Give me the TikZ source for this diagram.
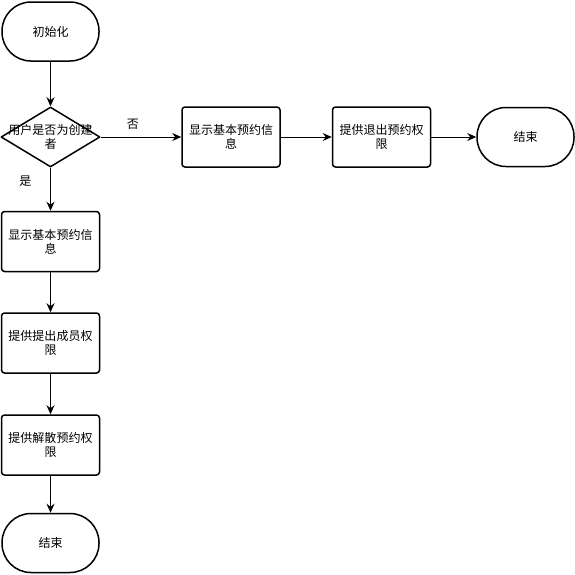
\documentclass[tikz,border=0pt]{standalone}
\usepackage{fontspec}
\setmainfont{Noto Sans CJK SC}
\usetikzlibrary{arrows.meta, positioning, shapes.geometric}
\tikzset{
  terminal/.style={draw, line width=1.5pt, rounded corners=29pt, minimum width=97pt, minimum height=59pt, inner sep=0pt},
  process/.style={draw, line width=1.5pt, rounded corners=3pt, minimum width=98pt, minimum height=60pt, align=center, inner sep=0pt},
  decision/.style={draw, line width=1.5pt, diamond, minimum width=99pt, minimum height=60pt, inner sep=0pt},
  flow/.style={-{Stealth[length=9pt,width=8pt]}, line width=1pt}
}

\begin{document}
\begin{tikzpicture}[x=1pt, y=-1pt, font=\fontsize{12}{14}\selectfont, line join=round]
	\useasboundingbox (0,0) rectangle (575,574);

	% left column
	\node[terminal] (start) at (50.5,31.5) {初始化};
	\node[decision] (creator) at (50.5,137) {};
	\node[align=center, inner sep=0pt] at (creator) {用户是否为创建\\者};
	\node[process] (info) at (50.5,241.5) {显示基本预约信\\息};
	\node[process] (kick) at (50.5,343) {提供提出成员权\\限};
	\node[process] (dissolve) at (50.5,445) {提供解散预约权\\限};
	\node[terminal] (endL) at (50.5,543) {结束};

	% right row
	\node[process] (infoR) at (231,137) {显示基本预约信\\息};
	\node[process] (quit) at (381.5,137) {提供退出预约权\\限};
	\node[terminal] (endR) at (525.5,137) {结束};

	\draw[flow] (start) -- (creator);
	\draw[flow] (creator.south) -- node[pos=0.32, xshift=-25pt] {是} (info.north);
	\draw[flow] (creator.east) -- node[pos=0.4, above=4pt] {否} (infoR.west);
	\draw[flow] (info) -- (kick);
	\draw[flow] (kick) -- (dissolve);
	\draw[flow] (dissolve) -- (endL);
	\draw[flow] (infoR) -- (quit);
	\draw[flow] (quit) -- (endR);
\end{tikzpicture}
\end{document}
